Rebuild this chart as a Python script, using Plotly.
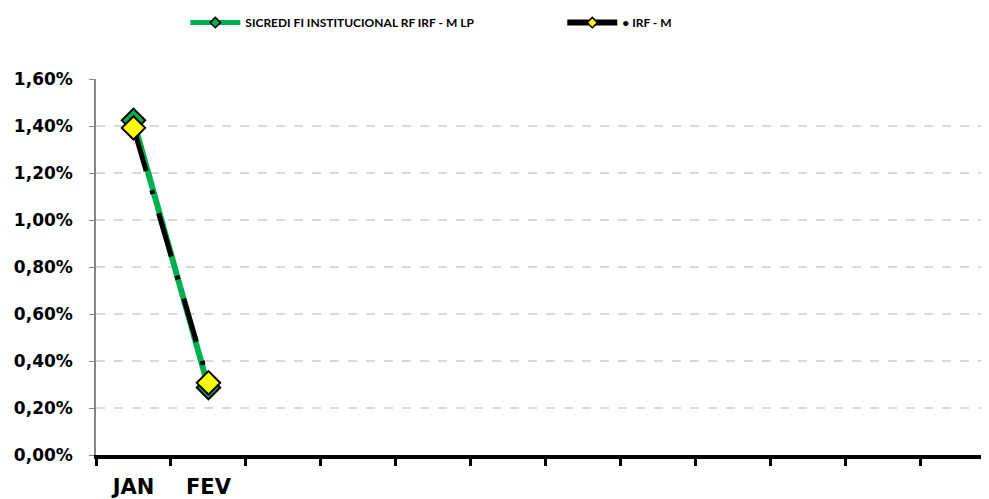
import plotly.graph_objects as go

# dados
meses = ["JAN", "FEV", "MAR", "ABR", "MAI", "JUN", "JUL", "AGO", "SET", "OUT", "NOV", "DEZ"]
rotulos = ["JAN", "FEV", "", "", "", "", "", "", "", "", "", ""]
meses_dados = ["JAN", "FEV"]
sicredi = [0.01424, 0.00287]
irfm = [0.01392, 0.00307]

nome_sicredi = "SICREDI FI INSTITUCIONAL RF IRF - M LP"
nome_irfm = "• IRF - M"

fonte_leg = "Lato"
fonte_eixo = "DejaVu Sans"

fig = go.Figure()

fig.add_trace(go.Scatter(
    x=meses_dados, y=sicredi, name=nome_sicredi, showlegend=False,
    mode="lines+markers",
    line=dict(color="#00B050", width=6),
    marker=dict(symbol="diamond", size=18, color="#00B050",
                line=dict(color="black", width=2)),
))
fig.add_trace(go.Scatter(
    x=meses_dados, y=irfm, name=nome_irfm, showlegend=False,
    mode="lines+markers",
    line=dict(color="black", width=5, dash="45px,20px,4px,20px"),
    marker=dict(symbol="diamond", size=18, color="#FFFF00",
                line=dict(color="black", width=2)),
))

# entradas da legenda (simbolos menores como no original)
fig.add_trace(go.Scatter(
    x=[None], y=[None], name=nome_sicredi, mode="lines+markers",
    line=dict(color="#00B050", width=5),
    marker=dict(symbol="diamond", size=8, color="#00B050",
                line=dict(color="black", width=1.5)),
))
fig.add_trace(go.Scatter(
    x=[None], y=[None], name=nome_irfm, mode="lines+markers",
    line=dict(color="black", width=6),
    marker=dict(symbol="diamond", size=8, color="#FFFF00",
                line=dict(color="black", width=1.5)),
))

fig.update_layout(
    width=981, height=491,
    margin=dict(l=88, r=0, t=71, b=41),
    paper_bgcolor="white", plot_bgcolor="white",
    separators=",.",
    font=dict(family=fonte_leg, color="black"),
    showlegend=True,
    legend=dict(orientation="h", x=0.1, xanchor="left", y=1.150, yanchor="middle",
                font=dict(size=12, family=fonte_leg, weight="bold"),
                itemwidth=50, entrywidth=312, traceorder="normal"),
)

fig.update_xaxes(
    type="category", categoryorder="array", categoryarray=meses,
    tickmode="array", tickvals=meses, ticktext=rotulos,
    tickson="boundaries", range=[-0.5, 11.41],
    showline=True, linecolor="black", linewidth=4,
    ticks="outside", ticklen=7, tickwidth=3, tickcolor="black",
    ticklabelstandoff=10,
    tickfont=dict(size=21, family=fonte_eixo, weight="bold"),
    showgrid=False, zeroline=False,
)
fig.update_yaxes(
    range=[0, 0.016], dtick=0.002, tickformat=".2%",
    showline=True, linecolor="#868686", linewidth=1.5,
    ticks="outside", ticklen=5, tickcolor="#868686",
    ticklabelstandoff=13,
    tickfont=dict(size=17, family=fonte_eixo, weight="bold"),
    showgrid=True, gridcolor="#D9D9D9", gridwidth=1.5, griddash="dash",
    zeroline=False,
)

fig.write_html("out.html")
